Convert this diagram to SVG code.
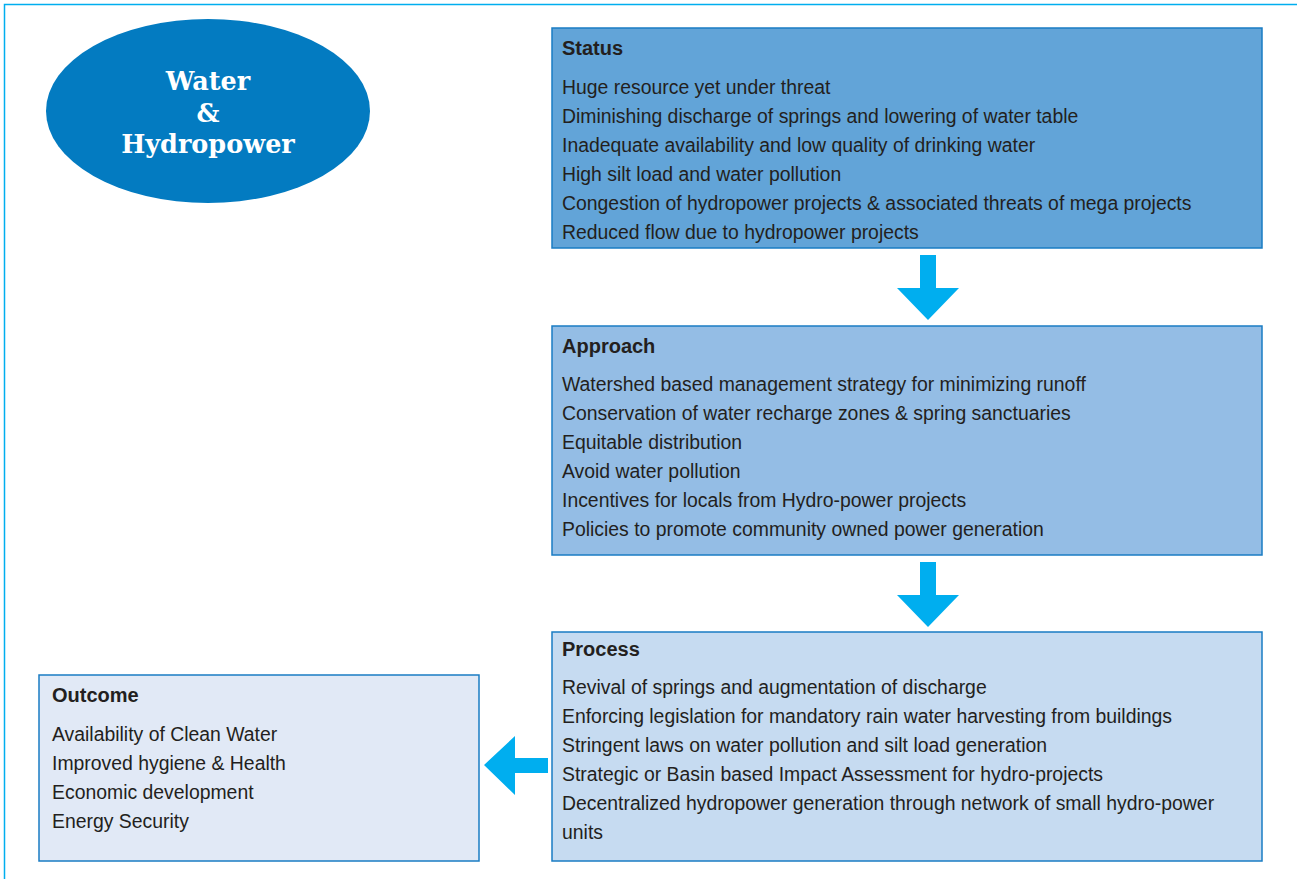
<svg xmlns="http://www.w3.org/2000/svg" width="1297" height="879" viewBox="0 0 1297 879">
<style>
.box{stroke:#1A7CC3;stroke-width:1.5}
.h{font-family:"Liberation Sans",Arial,sans-serif;font-weight:bold;font-size:20px;fill:#231F20}
.t{font-family:"Liberation Sans",Arial,sans-serif;font-size:19.4px;fill:#231F20}
.e{font-family:"DejaVu Serif","Liberation Serif",serif;font-weight:bold;font-size:25.5px;fill:#FFFFFF;text-anchor:middle}
.arr{fill:#00AEEF}
</style>
<rect width="1297" height="879" fill="#FFFFFF"/>
<path d="M4.5 879 V4.5 H1297" fill="none" stroke="#00AEEF" stroke-width="1.5"/>
<g id="title">
<ellipse cx="208" cy="111" rx="162" ry="92" fill="#037BC1"/>
<text class="e" x="208" y="90">Water</text>
<text class="e" x="208" y="122">&amp;</text>
<text class="e" x="208" y="153">Hydropower</text>
</g>
<g id="status">
<rect class="box" x="552" y="28" width="710" height="220" fill="#62A4D8"/>
<text class="h" x="562" y="55">Status</text>
<text class="t" x="562" y="94">Huge resource yet under threat</text>
<text class="t" x="562" y="123">Diminishing discharge of springs and lowering of water table</text>
<text class="t" x="562" y="152">Inadequate availability and low quality of drinking water</text>
<text class="t" x="562" y="181">High silt load and water pollution</text>
<text class="t" x="562" y="210">Congestion of hydropower projects &amp; associated threats of mega projects</text>
<text class="t" x="562" y="239">Reduced flow due to hydropower projects</text>
</g>
<g id="approach">
<rect class="box" x="552" y="326" width="710" height="229" fill="#94BDE5"/>
<text class="h" x="562" y="353">Approach</text>
<text class="t" x="562" y="391">Watershed based management strategy for minimizing runoff</text>
<text class="t" x="562" y="420">Conservation of water recharge zones &amp; spring sanctuaries</text>
<text class="t" x="562" y="449">Equitable distribution</text>
<text class="t" x="562" y="478">Avoid water pollution</text>
<text class="t" x="562" y="507">Incentives for locals from Hydro-power projects</text>
<text class="t" x="562" y="536">Policies to promote community owned power generation</text>
</g>
<g id="process">
<rect class="box" x="552" y="632" width="710" height="229" fill="#C6DBF1"/>
<text class="h" x="562" y="656">Process</text>
<text class="t" x="562" y="694">Revival of springs and augmentation of discharge</text>
<text class="t" x="562" y="723">Enforcing legislation for mandatory rain water harvesting from buildings</text>
<text class="t" x="562" y="752">Stringent laws on water pollution and silt load generation</text>
<text class="t" x="562" y="781">Strategic or Basin based Impact Assessment for hydro-projects</text>
<text class="t" x="562" y="810">Decentralized hydropower generation through network of small hydro-power</text>
<text class="t" x="562" y="839">units</text>
</g>
<g id="outcome">
<rect class="box" x="39" y="675" width="440" height="186" fill="#E1E9F6"/>
<text class="h" x="52" y="702">Outcome</text>
<text class="t" x="52" y="741">Availability of Clean Water</text>
<text class="t" x="52" y="770">Improved hygiene &amp; Health</text>
<text class="t" x="52" y="799">Economic development</text>
<text class="t" x="52" y="828">Energy Security</text>
</g>
<g id="connectors">
<polygon class="arr" points="920,255 936,255 936,288 959,288 928,320 897,288 920,288"/>
<polygon class="arr" points="920,562 936,562 936,595 959,595 928,627 897,595 920,595"/>
<polygon class="arr" points="548,758 548,773 515,773 515,795 484,765 515,736 515,758"/>
</g>
</svg>
